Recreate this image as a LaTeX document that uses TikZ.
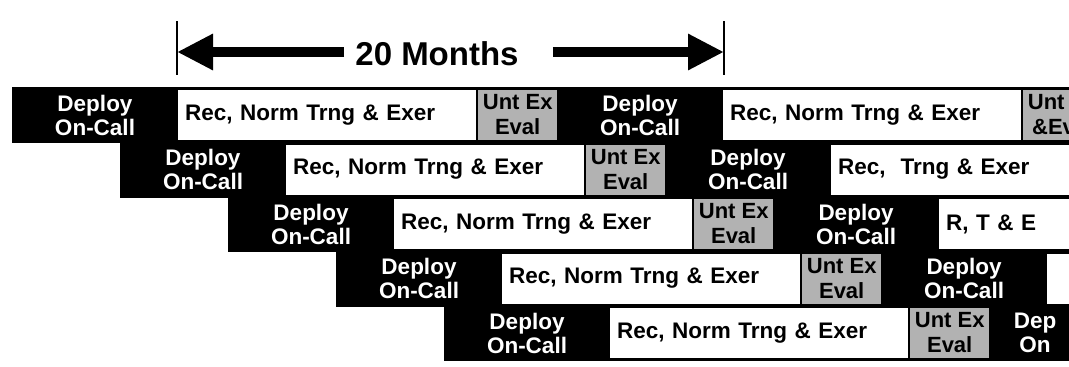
\documentclass[tikz,border=0pt]{standalone}
\usepackage{fontspec}
\setmainfont{Liberation Sans}
\usetikzlibrary{arrows.meta}

\begin{document}
\begin{tikzpicture}[
        x=1pt, y=-1pt, % one unit = one pixel, y runs down
        band/.style = {fill=black}, % black row band
        deploytext/.style = {text=white, align=center, inner sep=0pt, font=\bfseries\fontsize{22.5}{24}\selectfont},
        recbox/.style = {fill=white, anchor=west, text width=284pt, inner xsep=7pt, inner ysep=0pt, minimum height=50pt, align=left, font=\bfseries\fontsize{22.5}{24}\selectfont},
        evalbox/.style = {fill=black!30, anchor=west, minimum width=79pt, minimum height=50pt, inner sep=0pt, align=center, font=\bfseries\fontsize{22}{25}\selectfont},
        tickline/.style = {line width=2pt},
        span/.style = {line width=10pt, -{Triangle[length=36pt, width=34pt]}},
    ]

    \useasboundingbox (0,0) rectangle (1069,367);
    \clip (0,0) rectangle (1069,367);

    % row bands
    \fill[band] (12,87) rectangle (1069,143);
    \fill[band] (120,141.5) rectangle (1069,197.5);
    \fill[band] (228,196) rectangle (1069,252);
    \fill[band] (336,250.5) rectangle (1069,306.5);
    \fill[band] (444,305) rectangle (1069,361);

    % row 1
    \node[deploytext] (dep11) at (95,115) {Deploy\\On-Call};
    \node[recbox] (rec11) at (178,115) {Rec, Norm Trng \& Exer};
    \node[evalbox] (unt11) at (478,115) {Unt Ex\\Eval};
    \node[deploytext] (dep12) at (640,115) {Deploy\\On-Call};
    \node[recbox] (rec12) at (723,115) {Rec, Norm Trng \& Exer};
    \node[evalbox] (unt12) at (1023,115) {Unt Ex\\\&Eval};

    % row 2
    \node[deploytext] (dep21) at (203,169.5) {Deploy\\On-Call};
    \node[recbox] (rec21) at (286,169.5) {Rec, Norm Trng \& Exer};
    \node[evalbox] (unt21) at (586,169.5) {Unt Ex\\Eval};
    \node[deploytext] (dep22) at (748,169.5) {Deploy\\On-Call};
    \node[recbox] (rec22) at (831,169.5) {Rec,~ Trng \& Exer};

    % row 3
    \node[deploytext] (dep31) at (311,224) {Deploy\\On-Call};
    \node[recbox] (rec31) at (394,224) {Rec, Norm Trng \& Exer};
    \node[evalbox] (unt31) at (694,224) {Unt Ex\\Eval};
    \node[deploytext] (dep32) at (856,224) {Deploy\\On-Call};
    \node[recbox] (rec32) at (939,224) {R, T \& E};

    % row 4
    \node[deploytext] (dep41) at (419,278.5) {Deploy\\On-Call};
    \node[recbox] (rec41) at (502,278.5) {Rec, Norm Trng \& Exer};
    \node[evalbox] (unt41) at (802,278.5) {Unt Ex\\Eval};
    \node[deploytext] (dep42) at (964,278.5) {Deploy\\On-Call};
    \node[recbox] (rec42) at (1047,278.5) {};

    % row 5
    \node[deploytext] (dep51) at (527,333) {Deploy\\On-Call};
    \node[recbox] (rec51) at (610,333) {Rec, Norm Trng \& Exer};
    \node[evalbox] (unt51) at (910,333) {Unt Ex\\Eval};
    \node[deploytext] (dep52) at (1035,333) {Dep\\On};

    % 20 months span
    \coordinate (ltop) at (177,21);
    \coordinate (lbot) at (177,75);
    \coordinate (rtop) at (724,21);
    \coordinate (rbot) at (724,75);
    \draw[tickline] (ltop) -- (lbot);
    \draw[tickline] (rtop) -- (rbot);
    \node[inner sep=0pt, font=\bfseries\fontsize{33}{36}\selectfont] (months) at (437,54) {20 Months};
    \coordinate (lend) at (177,52);
    \coordinate (rend) at (724,52);
    \draw[span, shorten <=11pt] (months.west |- lend) -- (lend);
    \draw[span, shorten <=34pt] (months.east |- rend) -- (rend);
\end{tikzpicture}
\end{document}
